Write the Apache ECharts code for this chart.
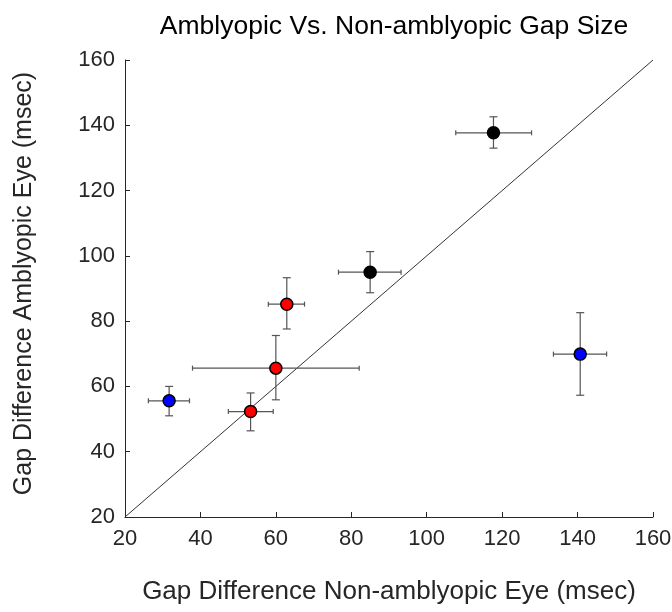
<!DOCTYPE html>
<html>
<head>
<meta charset="utf-8">
<script src="https://cdn.jsdelivr.net/npm/echarts@6/dist/echarts.min.js"></script>
<style>html,body{margin:0;padding:0;background:#fff}#c{width:672px;height:612px}</style>
</head>
<body>
<div id="c"></div>
<script>
const xValues  = [31.7, 53.3, 60.0, 62.9, 85.0, 117.7, 140.7];
const yValues  = [55.6, 52.3, 65.6, 85.2, 95.0, 137.7, 69.9];
const xErrLow  = [26.2, 47.4, 37.9, 58.0, 76.6, 107.7, 133.6];
const xErrHigh = [37.1, 59.3, 82.1, 67.6, 93.2, 127.8, 147.7];
const yErrLow  = [51.0, 46.4, 55.9, 77.6, 88.7, 133.0, 57.3];
const yErrHigh = [60.0, 58.0, 75.6, 93.3, 101.3, 142.6, 82.6];
const pointGroup = ['blue', 'red', 'red', 'red', 'black', 'black', 'blue'];
const groupColors = { blue: '#0000ff', red: '#ff0000', black: '#000000' };
const identityLine = [[20, 20], [160, 160]];
const axisTicks = [20, 40, 60, 80, 100, 120, 140, 160];

const FONT = '"Liberation Sans", Arial, Helvetica, sans-serif';
const TXT = '#262626';

const errData = xValues.map((x, i) => [x, yValues[i], xErrLow[i], xErrHigh[i], yErrLow[i], yErrHigh[i]]);

function renderErr(params, api) {
  const x = api.value(0), y = api.value(1);
  const c = api.coord([x, y]);
  const xl = api.coord([api.value(2), y]);
  const xh = api.coord([api.value(3), y]);
  const yl = api.coord([x, api.value(4)]);
  const yh = api.coord([x, api.value(5)]);
  const st = { stroke: '#555555', lineWidth: 1.2 };
  const cap = 4;
  return {
    type: 'group',
    children: [
      { type: 'line', shape: { x1: xl[0], y1: c[1], x2: xh[0], y2: c[1] }, style: st },
      { type: 'line', shape: { x1: xl[0], y1: c[1] - 2.5, x2: xl[0], y2: c[1] + 2.5 }, style: st },
      { type: 'line', shape: { x1: xh[0], y1: c[1] - 2.5, x2: xh[0], y2: c[1] + 2.5 }, style: st },
      { type: 'line', shape: { x1: c[0], y1: yl[1], x2: c[0], y2: yh[1] }, style: st },
      { type: 'line', shape: { x1: c[0] - cap, y1: yl[1], x2: c[0] + cap, y2: yl[1] }, style: st },
      { type: 'line', shape: { x1: c[0] - cap, y1: yh[1], x2: c[0] + cap, y2: yh[1] }, style: st }
    ]
  };
}

const scatterSeries = Object.keys(groupColors).map(g => ({
  type: 'scatter',
  name: g,
  z: 5,
  symbol: 'circle',
  symbolSize: 12,
  itemStyle: { color: groupColors[g], borderColor: '#000', borderWidth: 1.5, opacity: 1 },
  data: xValues.map((x, i) => pointGroup[i] === g ? [x, yValues[i]] : null).filter(d => d)
}));

const axisCommon = {
  type: 'value', min: 20, max: 160, interval: 20,
  nameLocation: 'middle',
  nameTextStyle: { fontFamily: FONT, fontSize: 26, color: TXT },
  axisLine: { show: true, onZero: false, lineStyle: { color: TXT, width: 1 } },
  axisTick: { show: true, inside: true, length: 5, lineStyle: { color: TXT } },
  axisLabel: { fontFamily: FONT, fontSize: 22, color: TXT, formatter: v => axisTicks.includes(v) ? String(v) : '' },
  splitLine: { show: false }
};

const chart = echarts.init(document.getElementById('c'), null, { renderer: 'canvas' });
chart.setOption({
  animation: false,
  backgroundColor: '#fff',
  title: {
    text: 'Amblyopic Vs. Non-amblyopic Gap Size',
    left: 389, top: 8, textAlign: 'center',
    textStyle: { fontFamily: FONT, fontSize: 26.5, fontWeight: 'normal', color: '#000' }
  },
  grid: { left: 125, right: 19, top: 60, bottom: 95, containLabel: false, outerBoundsMode: 'none' },
  xAxis: Object.assign({}, axisCommon, {
    name: 'Gap Difference Non-amblyopic Eye (msec)', nameGap: 62,
    axisLabel: Object.assign({}, axisCommon.axisLabel, { margin: 11 })
  }),
  yAxis: Object.assign({}, axisCommon, {
    name: 'Gap Difference Amblyopic Eye (msec)', nameGap: 88,
    nameTextStyle: { fontFamily: FONT, fontSize: 25, color: TXT, padding: [0, 0, 0, 10] },
    axisLabel: Object.assign({}, axisCommon.axisLabel, { margin: 10 })
  }),
  series: [
    {
      type: 'line', data: identityLine, symbol: 'none', z: 1,
      lineStyle: { color: '#333', width: 1 }, silent: true
    },
    {
      type: 'custom', renderItem: renderErr, data: errData, z: 3, silent: true,
      encode: { x: 0, y: 1 }
    }
  ].concat(scatterSeries)
});
</script>
</body>
</html>
